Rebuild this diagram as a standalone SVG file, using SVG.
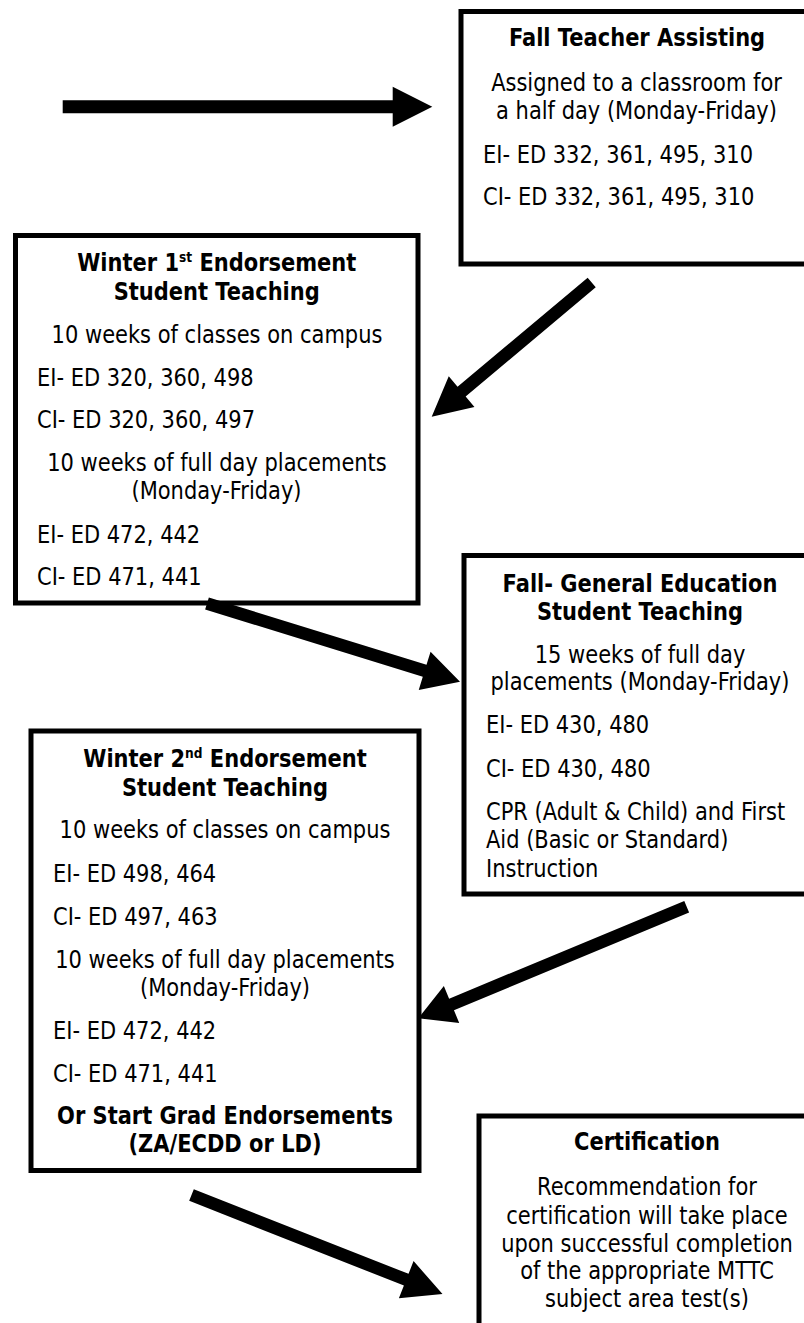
<svg xmlns="http://www.w3.org/2000/svg" width="804" height="1323" viewBox="0 0 804 1323">
<style>
.box{fill:#fff;stroke:#000;stroke-width:5}
.t{font-family:"DejaVu Sans",Verdana,sans-serif;font-size:24px;fill:#000}
.b{font-weight:bold}
.c{text-anchor:middle}
.sup{font-size:14px}
.arrow{fill:#000;stroke:none}
</style>
<rect width="804" height="1323" fill="#fff"/>
<g id="node-fall-teacher-assisting">
<rect class="box" x="461" y="11.5" width="352" height="252.5"/>
<text class="t b c" transform="translate(637,45.7) scale(0.875,1)">Fall Teacher Assisting</text>
<text class="t c" transform="translate(636.5,91) scale(0.875,1)">Assigned to a classroom for</text>
<text class="t c" transform="translate(636.5,119) scale(0.875,1)">a half day (Monday-Friday)</text>
<text class="t" transform="translate(483,163) scale(0.875,1)">EI- ED 332, 361, 495, 310</text>
<text class="t" transform="translate(483,205) scale(0.875,1)">CI- ED 332, 361, 495, 310</text>
</g>
<g id="node-winter-1st">
<rect class="box" x="15.5" y="235.5" width="402.5" height="367.5"/>
<text class="t b c" transform="translate(216.75,270.7) scale(0.875,1)">Winter 1<tspan class="sup" dy="-9">st</tspan><tspan dy="9"> Endorsement</tspan></text>
<text class="t b c" transform="translate(216.75,300) scale(0.875,1)">Student Teaching</text>
<text class="t c" transform="translate(217,342.7) scale(0.875,1)">10 weeks of classes on campus</text>
<text class="t" transform="translate(37,385.7) scale(0.875,1)">EI- ED 320, 360, 498</text>
<text class="t" transform="translate(37,428.3) scale(0.875,1)">CI- ED 320, 360, 497</text>
<text class="t c" transform="translate(217,470.7) scale(0.875,1)">10 weeks of full day placements</text>
<text class="t c" transform="translate(216.5,499.3) scale(0.875,1)">(Monday-Friday)</text>
<text class="t" transform="translate(37,542.7) scale(0.875,1)">EI- ED 472, 442</text>
<text class="t" transform="translate(37,585) scale(0.875,1)">CI- ED 471, 441</text>
</g>
<g id="node-fall-general-education">
<rect class="box" x="464" y="555.5" width="352" height="338.5"/>
<text class="t b c" transform="translate(640,591.7) scale(0.875,1)">Fall- General Education</text>
<text class="t b c" transform="translate(640,620) scale(0.875,1)">Student Teaching</text>
<text class="t c" transform="translate(640,662.7) scale(0.875,1)">15 weeks of full day</text>
<text class="t c" transform="translate(640,690) scale(0.875,1)">placements (Monday-Friday)</text>
<text class="t" transform="translate(486,733.3) scale(0.875,1)">EI- ED 430, 480</text>
<text class="t" transform="translate(486,776.7) scale(0.875,1)">CI- ED 430, 480</text>
<text class="t" transform="translate(486,820) scale(0.875,1)">CPR (Adult &amp; Child) and First</text>
<text class="t" transform="translate(486,848.3) scale(0.875,1)">Aid (Basic or Standard)</text>
<text class="t" transform="translate(486,876.7) scale(0.875,1)">Instruction</text>
</g>
<g id="node-winter-2nd">
<rect class="box" x="31" y="731" width="388" height="439.5"/>
<text class="t b c" transform="translate(225,767.3) scale(0.875,1)">Winter 2<tspan class="sup" dy="-9">nd</tspan><tspan dy="9"> Endorsement</tspan></text>
<text class="t b c" transform="translate(225,796) scale(0.875,1)">Student Teaching</text>
<text class="t c" transform="translate(225,838.3) scale(0.875,1)">10 weeks of classes on campus</text>
<text class="t" transform="translate(53,881.7) scale(0.875,1)">EI- ED 498, 464</text>
<text class="t" transform="translate(53,925) scale(0.875,1)">CI- ED 497, 463</text>
<text class="t c" transform="translate(225,967.7) scale(0.875,1)">10 weeks of full day placements</text>
<text class="t c" transform="translate(225,996) scale(0.875,1)">(Monday-Friday)</text>
<text class="t" transform="translate(53,1039.3) scale(0.875,1)">EI- ED 472, 442</text>
<text class="t" transform="translate(53,1081.7) scale(0.875,1)">CI- ED 471, 441</text>
<text class="t b c" transform="translate(225,1124) scale(0.875,1)">Or Start Grad Endorsements</text>
<text class="t b c" transform="translate(225,1151.7) scale(0.875,1)">(ZA/ECDD or LD)</text>
</g>
<g id="node-certification">
<rect class="box" x="479" y="1116" width="336" height="220"/>
<text class="t b c" transform="translate(647,1150) scale(0.875,1)">Certification</text>
<text class="t c" transform="translate(647,1195) scale(0.875,1)">Recommendation for</text>
<text class="t c" transform="translate(647,1224) scale(0.875,1)">certification will take place</text>
<text class="t c" transform="translate(647,1251.7) scale(0.875,1)">upon successful completion</text>
<text class="t c" transform="translate(647,1279.3) scale(0.875,1)">of the appropriate MTTC</text>
<text class="t c" transform="translate(647,1306.7) scale(0.875,1)">subject area test(s)</text>
</g>
<g id="connectors">
<polygon class="arrow" points="62.7,100.2 392.7,100.2 392.7,86.7 432.3,106.7 392.7,126.7 392.7,113.2 62.7,113.2"/>
<polygon class="arrow" points="587.65,277.67 457.55,386.77 448.75,376.27 431.7,416.7 474.45,406.93 465.65,396.43 595.75,287.33"/>
<polygon class="arrow" points="205.14,609.52 422.79,676.79 418.74,689.88 460,681.7 430.56,651.66 426.51,664.75 208.86,597.48"/>
<polygon class="arrow" points="684.28,900.88 449.12,998.66 443.86,986.01 418.3,1018.3 459.22,1022.95 453.96,1010.3 689.12,912.52"/>
<polygon class="arrow" points="189.19,1200.86 403.91,1285.55 398.88,1298.3 442.5,1294 413.56,1261.08 408.53,1273.83 193.81,1189.14"/>
</g>
</svg>
